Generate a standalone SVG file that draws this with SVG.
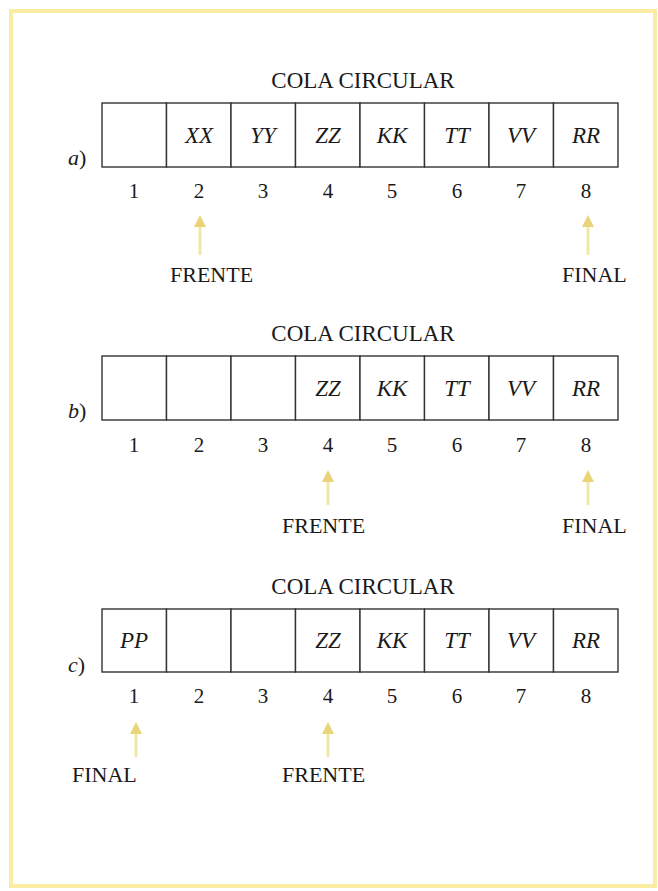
<svg xmlns="http://www.w3.org/2000/svg" width="658" height="891" viewBox="0 0 658 891">
<style>
text{font-family:"Liberation Serif","Times New Roman",serif;font-size:21px;fill:#1a1a1a}
.it{font-style:italic}
.mid{text-anchor:middle}
.v{font-size:23px}
.t{font-size:23px}
.lab{font-size:22px}
.cell{fill:#fff;stroke:#333;stroke-width:1.4}
.arr{stroke:#f0e8a6;stroke-width:3;fill:none;marker-end:url(#ah)}
.frame{fill:none;stroke:#fbeca4;stroke-width:4}
</style>
<defs>
<marker id="ah" markerWidth="4" markerHeight="4" refX="2" refY="2" orient="auto" markerUnits="strokeWidth">
<path d="M0,0 L4,2 L0,4 Z" fill="#ead47a"/>
</marker>
</defs>
<rect width="658" height="891" fill="#fff"/>
<rect class="frame" x="11" y="11" width="644" height="875"/>

<g id="panel-a">
<text class="t mid" x="363" y="88">COLA CIRCULAR</text>
<text class="lab" x="68" y="165"><tspan class="it">a</tspan>)</text>
<g id="a-cells">
<rect class="cell" x="102" y="103" width="64.5" height="64"/>
<rect class="cell" x="166.5" y="103" width="64.5" height="64"/>
<rect class="cell" x="231" y="103" width="64.5" height="64"/>
<rect class="cell" x="295.5" y="103" width="64.5" height="64"/>
<rect class="cell" x="360" y="103" width="64.5" height="64"/>
<rect class="cell" x="424.5" y="103" width="64.5" height="64"/>
<rect class="cell" x="489" y="103" width="64.5" height="64"/>
<rect class="cell" x="553.5" y="103" width="64.5" height="64"/>
</g>
<text class="v it mid" x="199" y="143">XX</text>
<text class="v it mid" x="263" y="143">YY</text>
<text class="v it mid" x="328" y="143">ZZ</text>
<text class="v it mid" x="392" y="143">KK</text>
<text class="v it mid" x="457" y="143">TT</text>
<text class="v it mid" x="521" y="143">VV</text>
<text class="v it mid" x="586" y="143">RR</text>
<text class="mid" x="134" y="198">1</text>
<text class="mid" x="199" y="198">2</text>
<text class="mid" x="263" y="198">3</text>
<text class="mid" x="328" y="198">4</text>
<text class="mid" x="392" y="198">5</text>
<text class="mid" x="457" y="198">6</text>
<text class="mid" x="521" y="198">7</text>
<text class="mid" x="586" y="198">8</text>
<text class="lab" x="170" y="282">FRENTE</text>
<text class="lab" x="562" y="282">FINAL</text>
</g>

<g id="panel-b">
<text class="t mid" x="363" y="341">COLA CIRCULAR</text>
<text class="lab" x="68" y="418"><tspan class="it">b</tspan>)</text>
<g id="b-cells">
<rect class="cell" x="102" y="356" width="64.5" height="64"/>
<rect class="cell" x="166.5" y="356" width="64.5" height="64"/>
<rect class="cell" x="231" y="356" width="64.5" height="64"/>
<rect class="cell" x="295.5" y="356" width="64.5" height="64"/>
<rect class="cell" x="360" y="356" width="64.5" height="64"/>
<rect class="cell" x="424.5" y="356" width="64.5" height="64"/>
<rect class="cell" x="489" y="356" width="64.5" height="64"/>
<rect class="cell" x="553.5" y="356" width="64.5" height="64"/>
</g>
<text class="v it mid" x="328" y="396">ZZ</text>
<text class="v it mid" x="392" y="396">KK</text>
<text class="v it mid" x="457" y="396">TT</text>
<text class="v it mid" x="521" y="396">VV</text>
<text class="v it mid" x="586" y="396">RR</text>
<text class="mid" x="134" y="452">1</text>
<text class="mid" x="199" y="452">2</text>
<text class="mid" x="263" y="452">3</text>
<text class="mid" x="328" y="452">4</text>
<text class="mid" x="392" y="452">5</text>
<text class="mid" x="457" y="452">6</text>
<text class="mid" x="521" y="452">7</text>
<text class="mid" x="586" y="452">8</text>
<text class="lab" x="282" y="533">FRENTE</text>
<text class="lab" x="562" y="533">FINAL</text>
</g>

<g id="panel-c">
<text class="t mid" x="363" y="594">COLA CIRCULAR</text>
<text class="lab" x="68" y="672"><tspan class="it">c</tspan>)</text>
<g id="c-cells">
<rect class="cell" x="102" y="609" width="64.5" height="63"/>
<rect class="cell" x="166.5" y="609" width="64.5" height="63"/>
<rect class="cell" x="231" y="609" width="64.5" height="63"/>
<rect class="cell" x="295.5" y="609" width="64.5" height="63"/>
<rect class="cell" x="360" y="609" width="64.5" height="63"/>
<rect class="cell" x="424.5" y="609" width="64.5" height="63"/>
<rect class="cell" x="489" y="609" width="64.5" height="63"/>
<rect class="cell" x="553.5" y="609" width="64.5" height="63"/>
</g>
<text class="v it mid" x="134" y="648">PP</text>
<text class="v it mid" x="328" y="648">ZZ</text>
<text class="v it mid" x="392" y="648">KK</text>
<text class="v it mid" x="457" y="648">TT</text>
<text class="v it mid" x="521" y="648">VV</text>
<text class="v it mid" x="586" y="648">RR</text>
<text class="mid" x="134" y="703">1</text>
<text class="mid" x="199" y="703">2</text>
<text class="mid" x="263" y="703">3</text>
<text class="mid" x="328" y="703">4</text>
<text class="mid" x="392" y="703">5</text>
<text class="mid" x="457" y="703">6</text>
<text class="mid" x="521" y="703">7</text>
<text class="mid" x="586" y="703">8</text>
<text class="lab" x="72" y="782">FINAL</text>
<text class="lab" x="282" y="782">FRENTE</text>
</g>

<g id="connectors">
<line class="arr" x1="200" y1="255" x2="200" y2="221"/>
<line class="arr" x1="588" y1="255" x2="588" y2="221"/>
<line class="arr" x1="328" y1="505" x2="328" y2="476"/>
<line class="arr" x1="588" y1="505" x2="588" y2="476"/>
<line class="arr" x1="136" y1="757" x2="136" y2="728"/>
<line class="arr" x1="328" y1="757" x2="328" y2="728"/>
</g>
</svg>
